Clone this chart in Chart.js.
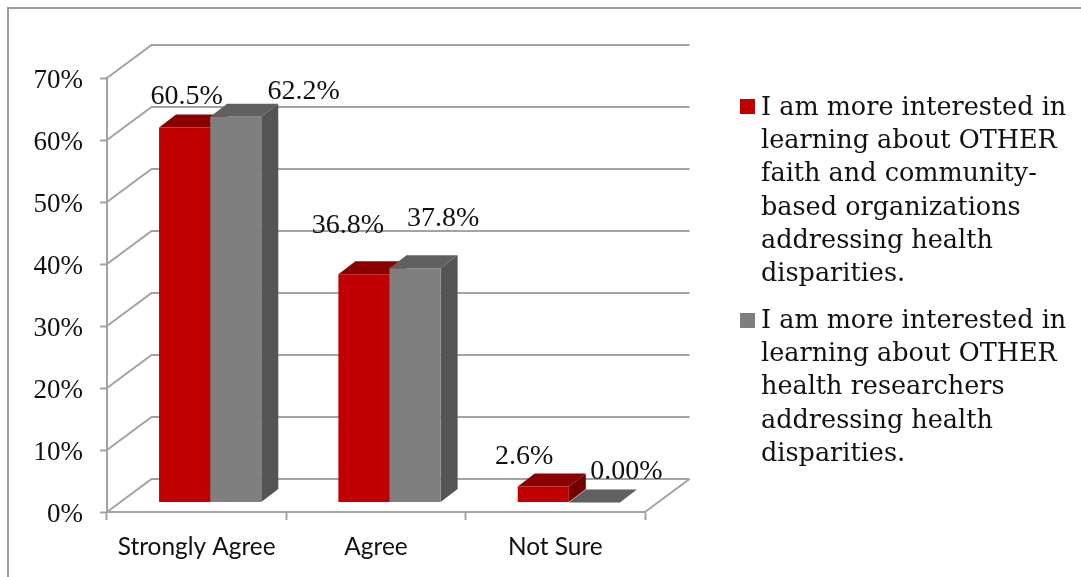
<!DOCTYPE html>
<html>
<head>
<meta charset="utf-8">
<style>html,body{margin:0;padding:0;background:#fff;overflow:hidden}canvas{display:block}</style>
<script src="https://cdn.jsdelivr.net/npm/chart.js@4"></script>
</head>
<body>
<canvas id="c" width="1081" height="577"></canvas>
<script>
const categories = ["Strongly Agree", "Agree", "Not Sure"];
const faithValues = [60.5, 36.8, 2.6];
const researcherValues = [62.2, 37.8, 0];
const faithLabels = ["60.5%", "36.8%", "2.6%"];
const researcherLabels = ["62.2%", "37.8%", "0.00%"];
const faithLegend = ["I am more interested in", "learning about OTHER", "faith and community-", "based organizations", "addressing health", "disparities."];
const researcherLegend = ["I am more interested in", "learning about OTHER", "health researchers", "addressing health", "disparities."];

const GRID = "#a3a3a3";
const SERIF = '"Liberation Serif", serif';
const LEGEND_SERIF = '"DejaVu Serif", serif';
const WALL = {dx: 44.5, dy: 33};
const BAR_SHIFT = {x: 13.5, y: -9.5};
const DEPTH = {dx: 17, dy: 13};
const SKINS = [
  {front: "#c00000", top: "#8b0000", side: "#730000"},
  {front: "#7f7f7f", top: "#606060", side: "#545454"}
];
const LABEL_NUDGE = [
  [[2, -31], [-16, -49], [-19, -30]],
  [[68, -25], [28, -49], [32, -31]]
];

function poly(ctx, pts, fill) {
  ctx.beginPath();
  pts.forEach((p, i) => i ? ctx.lineTo(p[0], p[1]) : ctx.moveTo(p[0], p[1]));
  ctx.closePath();
  ctx.fillStyle = fill;
  ctx.fill();
}

const scene = {
  id: "scene",
  beforeDraw(chart) {
    const ctx = chart.ctx;
    ctx.save();
    ctx.strokeStyle = "#9c9c9c";
    ctx.lineWidth = 2;
    ctx.beginPath();
    ctx.moveTo(8, 577); ctx.lineTo(8, 8); ctx.lineTo(1081, 8);
    ctx.stroke();
    ctx.restore();
  },
  beforeDatasetsDraw(chart) {
    const ctx = chart.ctx, y = chart.scales.y, a = chart.chartArea;
    ctx.save();
    ctx.strokeStyle = GRID;
    ctx.lineWidth = 2;
    y.ticks.forEach(t => {
      const py = y.getPixelForValue(t.value);
      ctx.beginPath();
      ctx.moveTo(a.left, py);
      ctx.lineTo(a.left + WALL.dx, py - WALL.dy);
      ctx.lineTo(a.right + WALL.dx, py - WALL.dy);
      ctx.stroke();
    });
    ctx.beginPath();
    ctx.moveTo(a.right + WALL.dx, a.bottom - WALL.dy);
    ctx.lineTo(a.right, a.bottom);
    ctx.stroke();
    ctx.restore();

    ctx.save();
    ctx.translate(BAR_SHIFT.x, BAR_SHIFT.y);
    chart.getSortedVisibleDatasetMetas().slice().sort((m, n) => m.index - n.index).forEach(meta => {
      const skin = SKINS[meta.index];
      meta.data.forEach(bar => {
        const p = bar.getProps(["x", "y", "base", "width"], false);
        const l = p.x - p.width / 2, r = p.x + p.width / 2;
        if (p.base - p.y > 0.5) {
          poly(ctx, [[r, p.y], [r + DEPTH.dx, p.y - DEPTH.dy], [r + DEPTH.dx, p.base - DEPTH.dy], [r, p.base]], skin.side);
        }
        poly(ctx, [[l, p.y], [r, p.y], [r + DEPTH.dx, p.y - DEPTH.dy], [l + DEPTH.dx, p.y - DEPTH.dy]], skin.top);
      });
    });
    ctx.restore();
    // the bars stand in the middle of the floor, so the library draws them shifted too
    ctx.save();
    ctx.translate(BAR_SHIFT.x, BAR_SHIFT.y);
  },
  afterDatasetsDraw(chart) {
    const ctx = chart.ctx;
    ctx.restore();
    ctx.save();
    ctx.font = "28px " + SERIF;
    ctx.fillStyle = "#111";
    ctx.textAlign = "center";
    ctx.textBaseline = "middle";
    const texts = [faithLabels, researcherLabels];
    chart.getSortedVisibleDatasetMetas().forEach(meta => {
      meta.data.forEach((bar, i) => {
        const n = LABEL_NUDGE[meta.index][i];
        ctx.fillText(texts[meta.index][i], bar.x + BAR_SHIFT.x + n[0], bar.y + BAR_SHIFT.y + n[1]);
      });
    });
    ctx.restore();

    ctx.save();
    ctx.font = "25.5px " + LEGEND_SERIF;
    ctx.textBaseline = "alphabetic";
    const blocks = [[faithLegend, 115, SKINS[0].front, 99], [researcherLegend, 328, SKINS[1].front, 313]];
    blocks.forEach(([lines, base, color, boxY]) => {
      ctx.fillStyle = color;
      ctx.fillRect(740, boxY, 15, 15);
      ctx.fillStyle = "#111";
      lines.forEach((s, i) => ctx.fillText(s, 761, base + i * 33.2));
    });
    ctx.restore();
  }
};

new Chart(document.getElementById("c"), {
  type: "bar",
  data: {
    labels: categories,
    datasets: [
      {label: faithLegend.join(" "), data: faithValues, backgroundColor: SKINS[0].front, clip: false},
      {label: researcherLegend.join(" "), data: researcherValues, backgroundColor: SKINS[1].front, clip: false}
    ]
  },
  options: {
    responsive: false,
    animation: false,
    devicePixelRatio: 1,
    layout: {padding: {top: 78, right: 436, bottom: 0, left: 0}},
    datasets: {bar: {barPercentage: 1, categoryPercentage: 0.57, borderWidth: 0}},
    plugins: {legend: {display: false}, tooltip: {enabled: false}},
    scales: {
      x: {
        afterFit: s => { s.height = 65; },
        grid: {display: true, drawOnChartArea: false, drawTicks: true, tickLength: 8, tickColor: GRID, tickWidth: 2},
        border: {color: GRID, width: 2},
        ticks: {font: {family: 'Lato', size: 24.4}, color: "#111", padding: 13, maxRotation: 0}
      },
      y: {
        min: 0, max: 70,
        afterFit: s => { s.width = 107; },
        grid: {display: true, drawOnChartArea: false, drawTicks: true, tickLength: 7, tickColor: GRID, tickWidth: 2},
        border: {color: GRID, width: 2},
        ticks: {stepSize: 10, callback: v => v + "%", font: {family: SERIF, size: 27}, color: "#111", padding: 17, labelOffset: 3}
      }
    }
  },
  plugins: [scene]
});
</script>
</body>
</html>
